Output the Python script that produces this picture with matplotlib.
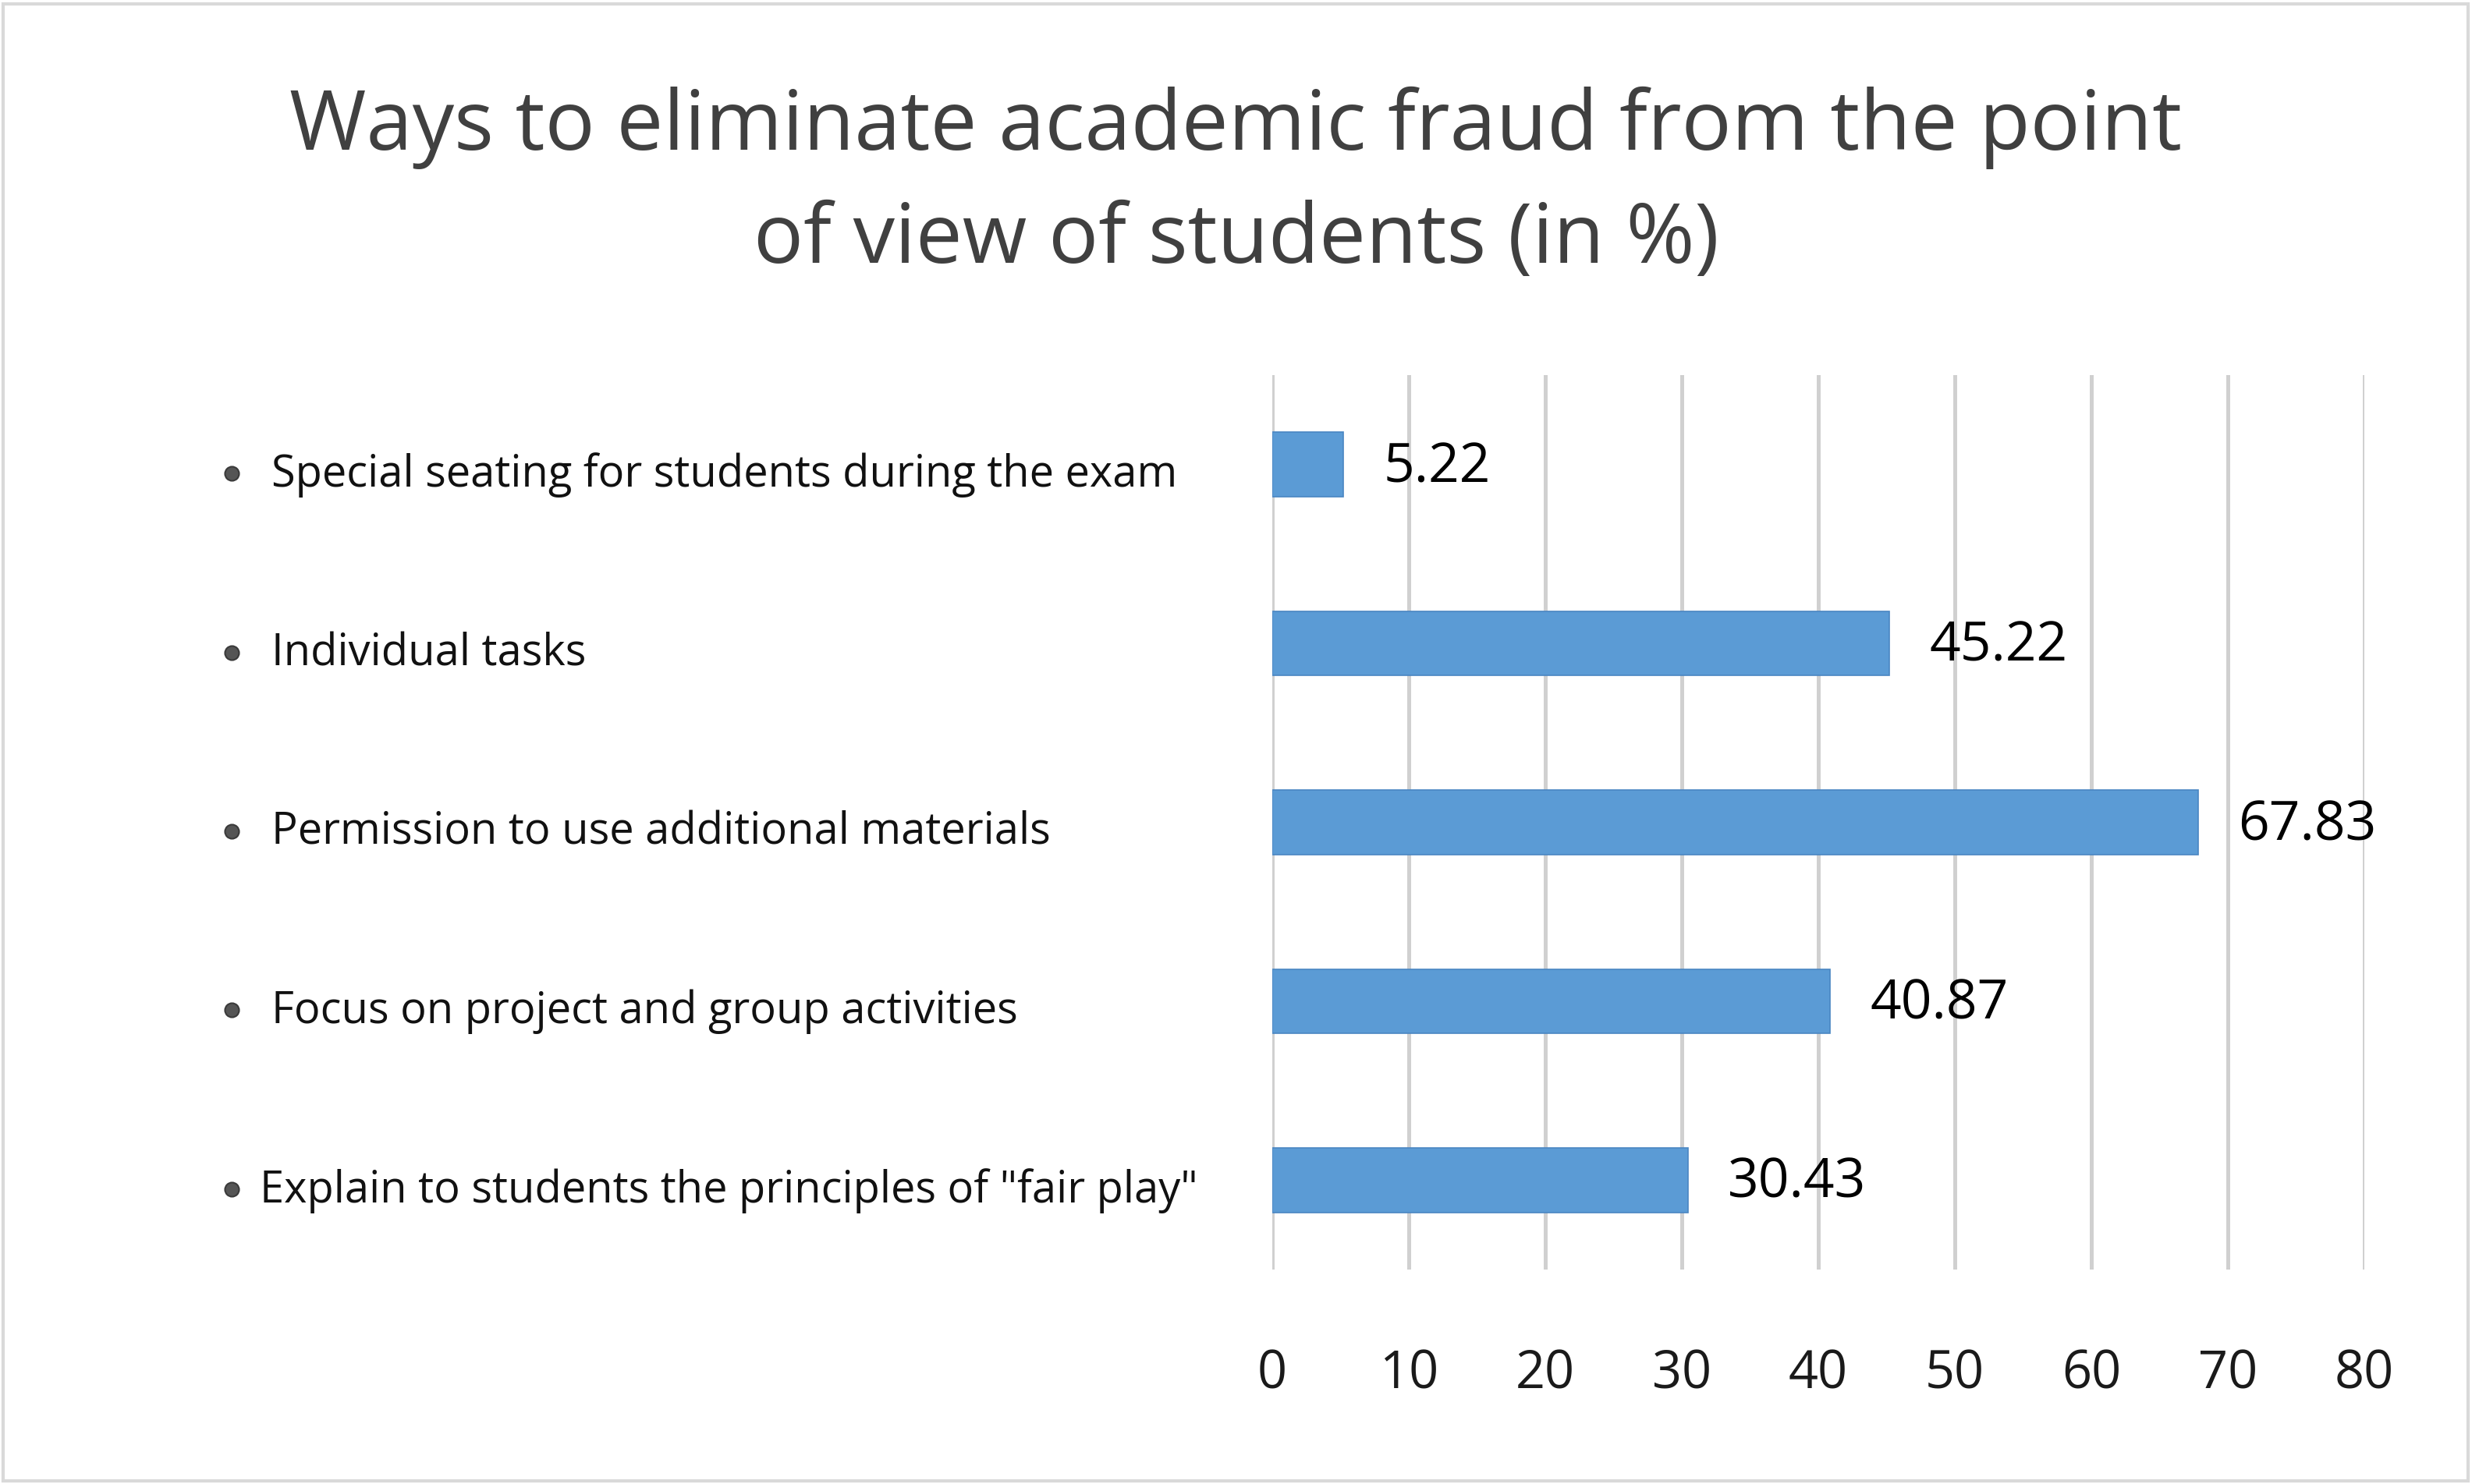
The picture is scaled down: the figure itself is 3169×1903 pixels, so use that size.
import matplotlib
matplotlib.use("Agg")
import matplotlib.pyplot as plt
from matplotlib.patches import Rectangle
from matplotlib.transforms import blended_transform_factory

categories = [
    "Special seating for students during the exam",
    "Individual tasks",
    "Permission to use additional materials",
    "Focus on project and group activities",
    'Explain to students the principles of "fair play"',
]
values = [5.22, 45.22, 67.83, 40.87, 30.43]
value_labels = ["5.22", "45.22", "67.83", "40.87", "30.43"]
xticks = [0, 10, 20, 30, 40, 50, 60, 70, 80]
xtick_labels = ["0", "10", "20", "30", "40", "50", "60", "70", "80"]
title = "Ways to eliminate academic fraud from the point\nof view of students (in %)"

W, H, DPI = 3169, 1903, 100
plt.rcParams['font.family'] = ['Open Sans', 'DejaVu Sans']

fig = plt.figure(figsize=(W / DPI, H / DPI), dpi=DPI)
fig.patch.set_facecolor("white")

ax = fig.add_axes([1631 / W, 1 - 1628 / H, (3031 - 1631) / W, (1628 - 481) / H])
ypos = list(range(len(categories)))
ax.barh(ypos, values, height=0.36, color="#5B9BD5", edgecolor="#4A86C2",
        linewidth=1.2, zorder=3)
ax.set_xlim(0, 80)
ax.set_ylim(len(categories) - 0.5, -0.5)
ax.set_xticks(xticks)
ax.set_xticklabels(xtick_labels, fontsize=48, color="#1a1a1a")
ax.tick_params(axis="x", length=0, pad=73)
ax.set_yticks([])
for s in ax.spines.values():
    s.set_visible(False)
ax.grid(axis="x", color="#d0d0d0", linewidth=3.6, zorder=0)
ax.set_axisbelow(True)

for y, v, lab in zip(ypos, values, value_labels):
    ax.annotate(lab, (v, y + 0.02), xytext=(37, 0), textcoords="offset points",
                ha="left", va="center", fontsize=50, color="#000000")

tr = blended_transform_factory(fig.transFigure, ax.transData)
for i, (y, cat) in enumerate(zip(ypos, categories)):
    tx = 333 if i == len(categories) - 1 else 348
    ax.plot([297 / W], [y + 0.05], marker="o", markersize=13, color="#555555",
            markeredgecolor="#3a3a3a", markeredgewidth=1.5, transform=tr,
            clip_on=False)
    ax.text(tx / W, y + 0.06, cat, transform=tr, ha="left", va="center",
            fontsize=40.3, color="#111111")

fig.text(0.5, 1 - 337 / H, title, ha="center", va="baseline", fontsize=76.8,
         color="#404040", linespacing=1.48)

fig.add_artist(Rectangle((4 / W, 4 / H), (W - 9) / W, (H - 9) / H,
                         transform=fig.transFigure, fill=False,
                         edgecolor="#d9d9d9", linewidth=3))

fig.savefig("out.png", dpi=DPI, facecolor="white")
